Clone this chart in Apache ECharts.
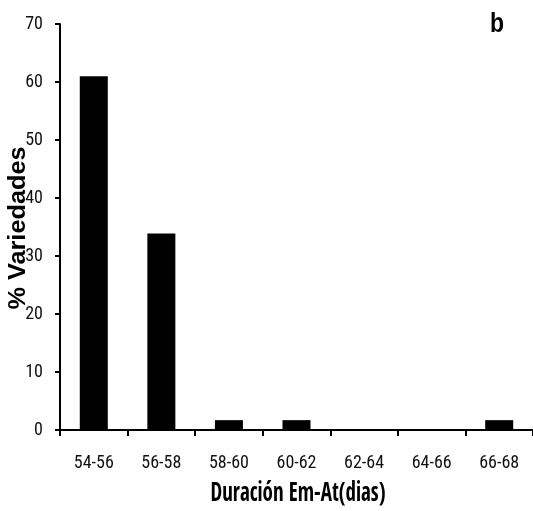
<!DOCTYPE html>
<html>
<head>
<meta charset="utf-8">
<script src="https://cdn.jsdelivr.net/npm/echarts@6/dist/echarts.min.js"></script>
<style>html,body{margin:0;padding:0;background:#fff;}#c{width:533px;height:511px;}</style>
</head>
<body>
<div id="c"></div>
<script>
const categories = ['54-56', '56-58', '58-60', '60-62', '62-64', '64-66', '66-68'];
const values = [61.0, 33.9, 1.7, 1.7, 0, 0, 1.7];
const yTicks = [0, 10, 20, 30, 40, 50, 60, 70];
const xTitle = 'Duración Em-At(dias)';
const yTitle = '% Variedades';
const panelLabel = 'b';

const chart = echarts.init(document.getElementById('c'), null, {renderer: 'canvas'});
const cond = '"Roboto Condensed", "Liberation Sans", sans-serif';
chart.setOption({
  animation: false,
  backgroundColor: '#ffffff',
  grid: {left: 60, top: 24, width: 477, bottom: 81, containLabel: false},
  xAxis: {
    type: 'category',
    data: categories,
    axisLine: {lineStyle: {color: '#000', width: 2}},
    axisTick: {show: true, length: 6, lineStyle: {color: '#000', width: 2}},
    axisLabel: {color: '#111', fontFamily: cond, fontSize: 18, margin: 24},
    splitLine: {show: false}
  },
  yAxis: {
    type: 'value',
    min: yTicks[0],
    max: yTicks[yTicks.length - 1],
    interval: 10,
    axisLine: {show: true, lineStyle: {color: '#000', width: 2}},
    axisTick: {show: true, length: 5, lineStyle: {color: '#000', width: 2}},
    axisLabel: {color: '#111', fontFamily: cond, fontSize: 18, margin: 17},
    splitLine: {show: false}
  },
  series: [{
    type: 'bar',
    data: values,
    barWidth: 28,
    itemStyle: {color: '#000'}
  }],
  graphic: [
    {
      type: 'text',
      x: 19, y: 228,
      rotation: Math.PI / 2,
      scaleX: 1.1,
      style: {
        text: yTitle,
        fontFamily: '"Liberation Sans", Arial, sans-serif',
        fontWeight: 'bold',
        fontSize: 23,
        fill: '#000',
        textAlign: 'center',
        textVerticalAlign: 'middle'
      }
    },
    {
      type: 'text',
      x: 298, y: 494,
      scaleY: 1.3,
      style: {
        text: xTitle,
        fontFamily: '"Open Sans Condensed", "Roboto Condensed", sans-serif',
        fontWeight: 'bold',
        fontSize: 21,
        fill: '#000',
        textAlign: 'center',
        textVerticalAlign: 'middle'
      }
    },
    {
      type: 'text',
      x: 497, y: 24,
      scaleY: 1.2,
      style: {
        text: panelLabel,
        fontFamily: '"Liberation Sans", Arial, sans-serif',
        fontWeight: 'bold',
        fontSize: 23,
        fill: '#000',
        textAlign: 'center',
        textVerticalAlign: 'middle'
      }
    }
  ]
});
</script>
</body>
</html>
